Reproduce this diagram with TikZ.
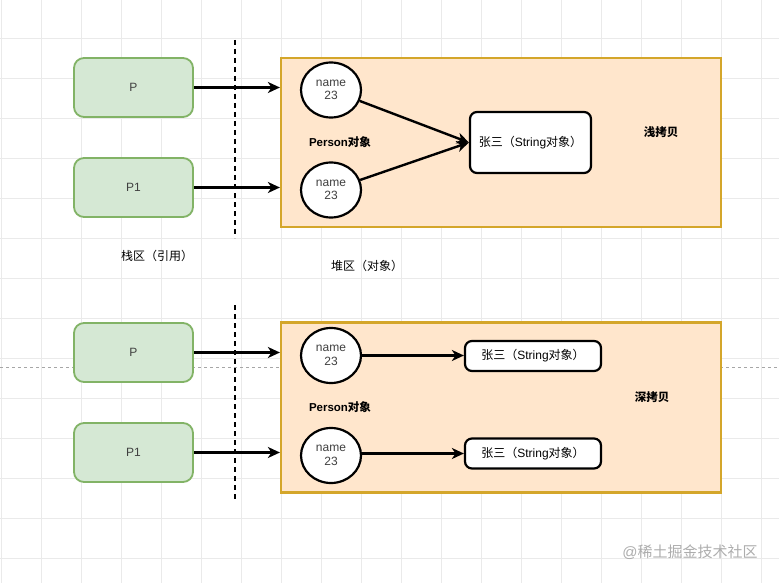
\documentclass[tikz,border=0pt]{standalone}
\usepackage{fontspec}
\setmainfont{Liberation Sans}
\newfontfamily\cjk{Noto Sans CJK SC}
\usetikzlibrary{arrows.meta,shapes.geometric}
\definecolor{gridc}{HTML}{EAEAEA}
\definecolor{greenfill}{HTML}{D5E8D4}
\definecolor{greenline}{HTML}{82B366}
\definecolor{orangefill}{HTML}{FFE6CC}
\definecolor{orangeline}{HTML}{D4A62A}
\tikzset{
  refbox/.style={draw=greenline, fill=greenfill, line width=1.8pt, rounded corners=10pt,
    minimum width=119pt, minimum height=59pt, inner sep=0pt, font=\fontsize{12}{14}\selectfont, text=black!75},
  heapbox/.style={draw=orangeline, fill=orangefill, line width=2.2pt,
    minimum width=440pt, minimum height=169pt, inner sep=0pt},
  fieldcirc/.style={draw=black, fill=white, ellipse, line width=2.2pt,
    minimum width=60pt, minimum height=55pt, inner sep=0pt, align=center,
    font=\fontsize{12}{13.5}\selectfont, text=black!75},
  strbox/.style={draw=black, fill=white, line width=2.2pt, rounded corners=7pt,
    inner sep=0pt, font=\fontsize{12}{14}\selectfont},
  plain/.style={inner sep=0pt, font=\fontsize{12}{14}\selectfont},
  boldlbl/.style={inner sep=0pt, font=\fontsize{11.5}{14}\selectfont\bfseries},
  arr/.style={line width=2.4pt, -{Stealth[length=12pt,width=11pt,inset=3.5pt]}},
  divider/.style={line width=2.2pt, dash pattern=on 5pt off 4pt},
}
\begin{document}
\begin{tikzpicture}[x=1pt,y=-1pt]
\useasboundingbox (0,0) rectangle (779,583);
\fill[white] (0,0) rectangle (779,583);
% grid
\foreach \gx in {1.7,41.7,...,780} \draw[gridc, line width=0.8pt] (\gx,0) -- (\gx,583);
\foreach \gy in {38.3,78.3,...,584} \draw[gridc, line width=0.8pt] (0,\gy) -- (779,\gy);
\draw[black!35, line width=0.7pt, dash pattern=on 3pt off 3pt] (0,367) -- (779,367);

% ===== top: shallow copy =====
\node[refbox] (p1) at (133.5,87.5) {P};
\node[refbox] (p2) at (133.5,187.5) {P1};
\coordinate (d1a) at (235,40);
\coordinate (d1b) at (235,238);
\draw[divider] (d1a) -- (d1b);
\node[heapbox] (h1) at (501,142.5) {};
\node[fieldcirc] (c1) at (331,90) {name\\23};
\node[fieldcirc] (c2) at (331,190) {name\\23};
\node[strbox, minimum width=121pt, minimum height=61pt] (s1) at (530.5,142.5) {{\cjk 张三（}String{\cjk 对象）}};
\node[boldlbl] (pl1) at (340,142) {Person{\cjk 对象}};
\node[boldlbl] (sh) at (661,132) {\cjk 浅拷贝};
\node[plain] (stack) at (157,256) {\cjk 栈区（引用）};
\node[plain] (heap) at (367,266) {\cjk 堆区（对象）};
\draw[arr] (p1.east) -- (p1.east -| h1.west);
\draw[arr] (p2.east) -- (p2.east -| h1.west);
\draw[arr] (c1) -- (s1.west);
\draw[arr] (c2) -- (s1.west);

% ===== bottom: deep copy =====
\node[refbox] (p3) at (133.5,352.5) {P};
\node[refbox] (p4) at (133.5,452.5) {P1};
\coordinate (d2a) at (235,305);
\coordinate (d2b) at (235,502);
\draw[divider] (d2a) -- (d2b);
\node[heapbox, minimum height=170pt] (h2) at (501,407.5) {};
\node[fieldcirc] (c3) at (331,355.5) {name\\23};
\node[fieldcirc] (c4) at (331,455.5) {name\\23};
\node[strbox, minimum width=136pt, minimum height=30pt] (s3) at (533,356) {{\cjk 张三（}String{\cjk 对象）}};
\node[strbox, minimum width=136pt, minimum height=30pt] (s4) at (533,453.5) {{\cjk 张三（}String{\cjk 对象）}};
\node[boldlbl] (pl2) at (340,407) {Person{\cjk 对象}};
\node[boldlbl] (dp) at (652,397) {\cjk 深拷贝};
\draw[arr] (p3.east) -- (p3.east -| h2.west);
\draw[arr] (p4.east) -- (p4.east -| h2.west);
\draw[arr] (c3.east) -- (c3.east -| s3.west);
\draw[arr] (c4.east |- s4.west) -- (s4.west);

% watermark
\node[inner sep=0pt, text=black!40, opacity=0.8, font=\fontsize{15}{17}\selectfont] (wm1) at (690,552) {@{\cjk 稀土掘金技术社区}};
\end{tikzpicture}
\end{document}
